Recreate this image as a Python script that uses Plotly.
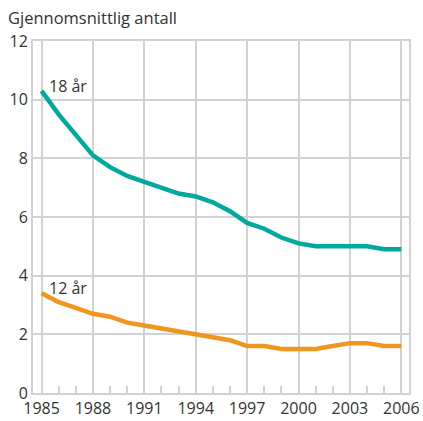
import plotly.graph_objects as go

years = list(range(1985, 2007))
age18 = [10.3, 9.5, 8.8, 8.1, 7.7, 7.4, 7.2, 7.0, 6.8, 6.7, 6.5, 6.2,
         5.8, 5.6, 5.3, 5.1, 5.0, 5.0, 5.0, 5.0, 4.9, 4.9]
age12 = [3.4, 3.1, 2.9, 2.7, 2.6, 2.4, 2.3, 2.2, 2.1, 2.0, 1.9, 1.8,
         1.6, 1.6, 1.5, 1.5, 1.5, 1.6, 1.7, 1.7, 1.6, 1.6]
labels = ["18 år", "12 år"]

grid = "#d2d2d2"
txt = "#333333"
font = "Open Sans, Lato, sans-serif"

fig = go.Figure()
fig.add_trace(go.Scatter(x=years, y=age18, mode="lines", name=labels[0],
                         line=dict(color="#00a99d", width=4.5)))
fig.add_trace(go.Scatter(x=years, y=age12, mode="lines", name=labels[1],
                         line=dict(color="#f0961e", width=4.5)))

# etiketter ved første punkt
for lab, ys in zip(labels, [age18, age12]):
    fig.add_annotation(x=years[0], y=ys[0], text=lab, showarrow=False,
                       xanchor="left", yanchor="bottom", xshift=5, yshift=-8,
                       font=dict(size=16, color=txt, family=font))

fig.add_annotation(xref="paper", yref="paper", x=-0.072, y=1, yshift=10,
                   text="Gjennomsnittlig antall", showarrow=False,
                   xanchor="left", yanchor="bottom",
                   font=dict(size=16.5, color=txt, family=font))

fig.update_xaxes(
    range=[1984.5, 2006.45], tick0=1985, dtick=3,
    showgrid=True, gridcolor=grid, gridwidth=2,
    ticks="inside", ticklen=7, tickcolor=grid, tickwidth=2,
    showline=True, linecolor=grid, linewidth=2, mirror=True,
    minor=dict(dtick=1, tick0=1985, ticks="inside", ticklen=7,
               tickcolor=grid, tickwidth=2, showgrid=False),
    tickfont=dict(size=16, color=txt, family=font), zeroline=False,
    automargin=False,
)
fig.update_yaxes(
    range=[0, 12], dtick=2, showgrid=True, gridcolor=grid, gridwidth=2,
    showline=True, linecolor=grid, linewidth=2, mirror=True,
    ticks="", zeroline=False, automargin=False,
    tickfont=dict(size=16, color=txt, family=font),
)
fig.update_layout(
    width=423, height=421,
    margin=dict(l=33, r=14, t=41, b=28),
    paper_bgcolor="white", plot_bgcolor="white",
    showlegend=False,
)

fig.write_html("out.html", config={"displayModeBar": False},
               post_script="document.body.style.margin='0';")
